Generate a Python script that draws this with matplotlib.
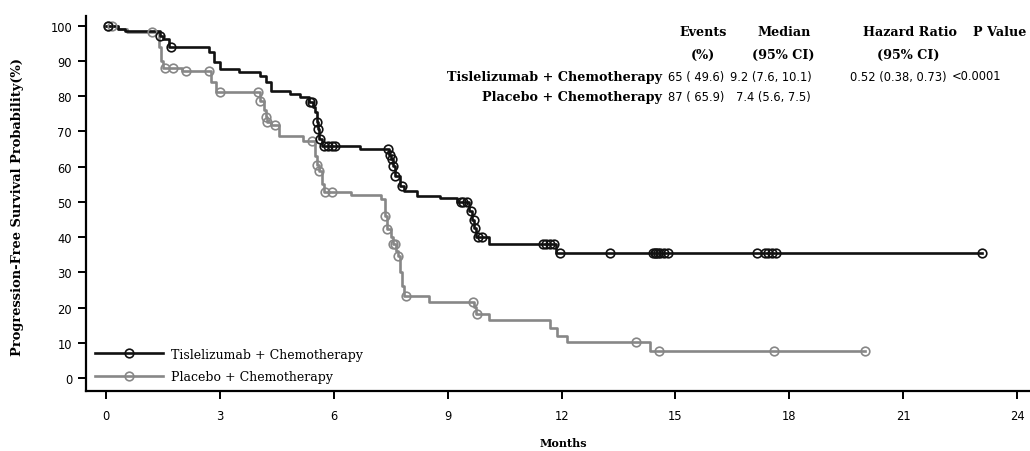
import numpy as np
import matplotlib
matplotlib.use('Agg')
from matplotlib import pyplot as plt
from matplotlib.lines import Line2D

# Kaplan-Meier step points (months, PFS %)
tis_t = [0, 0.3, 0.5, 1.42, 1.5, 1.65, 2.7, 2.85, 3.0, 3.5, 4.05, 4.2, 4.35, 4.85, 5.1,
         5.35, 5.45, 5.5, 5.55, 5.58, 5.62, 5.7, 6.7, 7.45, 7.5, 7.55, 7.6, 7.75, 7.85,
         8.2, 8.8, 9.25, 9.55, 9.65, 9.7, 9.75, 10.1, 11.85, 23.08]
tis_s = [100, 99.2, 98.5, 97.2, 96.2, 94.0, 92.6, 89.8, 87.8, 86.9, 85.8, 84.0, 81.5, 80.7, 79.8,
         78.4, 77.0, 75.6, 72.8, 70.7, 67.9, 66.0, 65.0, 63.2, 62.2, 60.2, 57.4, 54.5, 53.0,
         51.8, 51.0, 50.0, 47.5, 45.0, 42.5, 40.0, 38.0, 35.5, 35.5]
tis_cens = [0.05, 1.42, 1.7, 5.37, 5.42, 5.55, 5.58, 5.64, 5.75, 5.85, 5.95, 6.03,
            7.43, 7.48, 7.53, 7.57, 7.6, 7.8, 9.35, 9.4, 9.5, 9.6, 9.68, 9.73, 9.8, 9.9,
            11.5, 11.6, 11.7, 11.8, 11.96, 13.28, 14.4, 14.45, 14.5, 14.55, 14.6, 14.7, 14.8,
            17.15, 17.35, 17.45, 17.55, 17.65, 23.08]

pla_t = [0, 0.3, 0.55, 1.4, 1.45, 1.5, 2.0, 2.75, 2.9, 4.05, 4.15, 4.2, 4.25, 4.35, 4.55,
         5.2, 5.5, 5.55, 5.6, 5.7, 5.75, 6.45, 7.25, 7.35, 7.4, 7.5, 7.55, 7.65, 7.7, 7.75,
         7.8, 7.85, 8.5, 9.7, 9.75, 10.1, 11.7, 11.88, 12.14, 14.33, 20.0]
pla_s = [100, 99.0, 98.3, 94.0, 90.0, 88.0, 87.3, 84.0, 81.3, 78.7, 76.0, 74.0, 72.7, 71.8, 68.8,
         67.3, 63.0, 60.5, 58.8, 55.0, 52.8, 52.0, 50.8, 46.0, 42.3, 40.0, 38.0, 36.0, 34.7, 30.0,
         26.0, 23.3, 21.5, 20.2, 18.2, 16.4, 14.2, 12.0, 10.2, 7.7, 7.7]
pla_cens = [0.05, 0.15, 1.2, 1.55, 1.75, 2.1, 2.7, 3.0, 4.0, 4.06, 4.2, 4.25, 4.45,
            5.42, 5.56, 5.6, 5.77, 5.95, 7.35, 7.4, 7.55, 7.6, 7.7, 7.9, 9.67, 9.77,
            13.96, 14.57, 17.6, 20.0]

arms = ['Tislelizumab + Chemotherapy', 'Placebo + Chemotherapy']
events = ['65 ( 49.6)', '87 ( 65.9)']
medians = ['9.2 (7.6, 10.1)', '7.4 (5.6, 7.5)']
hr_text = '0.52 (0.38, 0.73)'
p_text = '<0.0001'

xticks = list(range(0, 25, 3))
yticks = list(range(0, 101, 10))

W, H = 1030, 452
def fx(px):
    return px / W
def fy(py):
    return 1 - py / H

serif = 'DejaVu Serif'
sans = 'DejaVu Sans'

fig = plt.figure(figsize=(10.3, 4.52), dpi=100)
ax = fig.add_axes([fx(86), fy(392), fx(1030) - fx(86), fy(17) - fy(392)])

def surv_at(t, ts, ss):
    i = np.searchsorted(ts, t, side='right') - 1
    return np.array(ss)[i]

black = '#111111'
grey = '#878787'
for ts, ss, cens, c in [(pla_t, pla_s, pla_cens, grey), (tis_t, tis_s, tis_cens, black)]:
    ax.step(ts, ss, where='post', color=c, lw=1.9, zorder=3)
    ax.plot(cens, surv_at(cens, ts, ss), 'o', ms=6.2, mfc='none', mec=c, mew=1.2, zorder=4)

ax.set_xlim(-0.53, 24.34)
ax.set_ylim(-3.7, 102.8)
ax.set_xticks(xticks)
ax.set_yticks(yticks)
for s in ['top', 'right']:
    ax.spines[s].set_visible(False)
for s in ['left', 'bottom']:
    ax.spines[s].set_linewidth(1.6)
ax.tick_params(width=1.4, length=6, labelsize=8.3, pad=4)
for lab in ax.get_xticklabels() + ax.get_yticklabels():
    lab.set_fontfamily(sans)
ax.tick_params(axis='x', pad=7)

fig.text(fx(18), fy(207), 'Progression-Free Survival Probability(%)', rotation=90,
         ha='center', va='center', family=serif, weight='bold', fontsize=9.4)
fig.text(fx(563), fy(444), 'Months', ha='center', va='center', family=serif,
         weight='bold', fontsize=8)

handles = [Line2D([], [], color=black, lw=1.9, marker='o', ms=6.2, mfc='none', mew=1.2),
           Line2D([], [], color=grey, lw=1.9, marker='o', ms=6.2, mfc='none', mew=1.2)]
fig.legend(handles, arms, loc='lower left', bbox_to_anchor=(fx(95), fy(384)),
           frameon=False, prop={'family': serif, 'size': 9}, handlelength=5.4,
           handletextpad=0.7, labelspacing=0.75, borderpad=0, borderaxespad=0, numpoints=1)

# summary table
hdr = dict(family=serif, weight='bold', fontsize=9.2, ha='center', va='center')
fig.text(fx(703), fy(33), 'Events', **hdr)
fig.text(fx(703), fy(55), '(%)', **hdr)
fig.text(fx(784), fy(33), 'Median', **hdr)
fig.text(fx(783), fy(55), '(95% CI)', **hdr)
fig.text(fx(910), fy(33), 'Hazard Ratio', **hdr)
fig.text(fx(908), fy(55), '(95% CI)', **hdr)
fig.text(fx(1000), fy(33), 'P Value', **hdr)
rows_y = [77, 98]
for i, y in enumerate(rows_y):
    fig.text(fx(662), fy(y), arms[i], family=serif, weight='bold', fontsize=9.2,
             ha='right', va='center')
    fig.text(fx(668), fy(y), events[i], family=sans, fontsize=8.3, ha='left', va='center')
    fig.text(fx(730 if i == 0 else 736), fy(y), medians[i], family=sans, fontsize=8.3,
             ha='left', va='center')
fig.text(fx(850), fy(77), hr_text, family=sans, fontsize=8.3, ha='left', va='center')
fig.text(fx(952), fy(77), p_text, family=sans, fontsize=8.3, ha='left', va='center')

fig.savefig('out.png', dpi=100)
